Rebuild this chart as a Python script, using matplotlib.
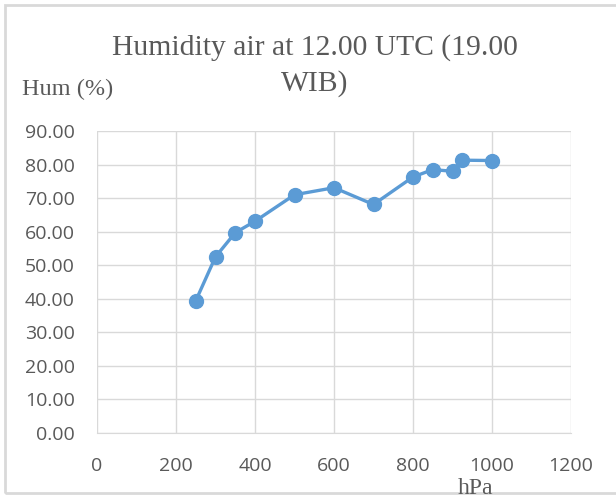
import matplotlib
matplotlib.use("Agg")
import matplotlib.pyplot as plt
from matplotlib.patches import Rectangle

# Data
pressure = [250, 300, 350, 400, 500, 600, 700, 800, 850, 900, 925, 1000]
humidity = [39.4, 52.5, 59.7, 63.1, 71.0, 73.1, 68.1, 76.3, 78.5, 78.0, 81.3, 81.2]
x_ticks = [0, 200, 400, 600, 800, 1000, 1200]
y_ticks = [0, 10, 20, 30, 40, 50, 60, 70, 80, 90]

BLUE = "#5b9bd5"
GRID = "#d9d9d9"
TXT = "#595959"
SERIF = "Liberation Serif"
SANS = "Open Sans"

W, H = 616, 495
fig = plt.figure(figsize=(W / 100, H / 100), dpi=100)
ax = fig.add_axes([97 / W, 1 - 433 / H, (571 - 97) / W, (433 - 131) / H])

# chart border
fig.patches.append(Rectangle((5 / W, 2 / H), 1.2, 1 - 7 / H, transform=fig.transFigure,
                             fill=False, edgecolor="#d9d9d9", linewidth=2))

ax.plot(pressure, humidity, "-o", color=BLUE, linewidth=2.4,
        markersize=10, zorder=3)

ax.set_xlim(0, 1200)
ax.set_ylim(0, 90)
ax.set_xticks(x_ticks)
ax.set_yticks(y_ticks)
ax.set_yticklabels([f"{v:.2f}" for v in y_ticks])
ax.grid(True, color=GRID, linewidth=1)
ax.set_axisbelow(True)
for s in ["top", "right", "left"]:
    ax.spines[s].set_visible(False)
ax.spines["bottom"].set_color(GRID)
ax.tick_params(length=0, labelsize=14, labelcolor=TXT)
ax.tick_params(axis="x", pad=17)
ax.tick_params(axis="y", pad=16)
for lab in ax.get_xticklabels() + ax.get_yticklabels():
    lab.set_fontfamily(SANS)

fig.text(315 / W, 1 - 55 / H, "Humidity air at 12.00 UTC (19.00", ha="center",
         va="baseline", fontsize=21.3, color=TXT, family=SERIF)
fig.text(315 / W, 1 - 91 / H, "WIB)", ha="center", va="baseline",
         fontsize=21.3, color=TXT, family=SERIF)
fig.text(22 / W, 1 - 95 / H, "Hum (%)", ha="left", va="baseline",
         fontsize=17.5, color=TXT, family=SERIF)
fig.text(475 / W, 1 - 494 / H, "hPa", ha="center", va="baseline",
         fontsize=17, color=TXT, family=SERIF)

fig.savefig("out.png", dpi=100)
